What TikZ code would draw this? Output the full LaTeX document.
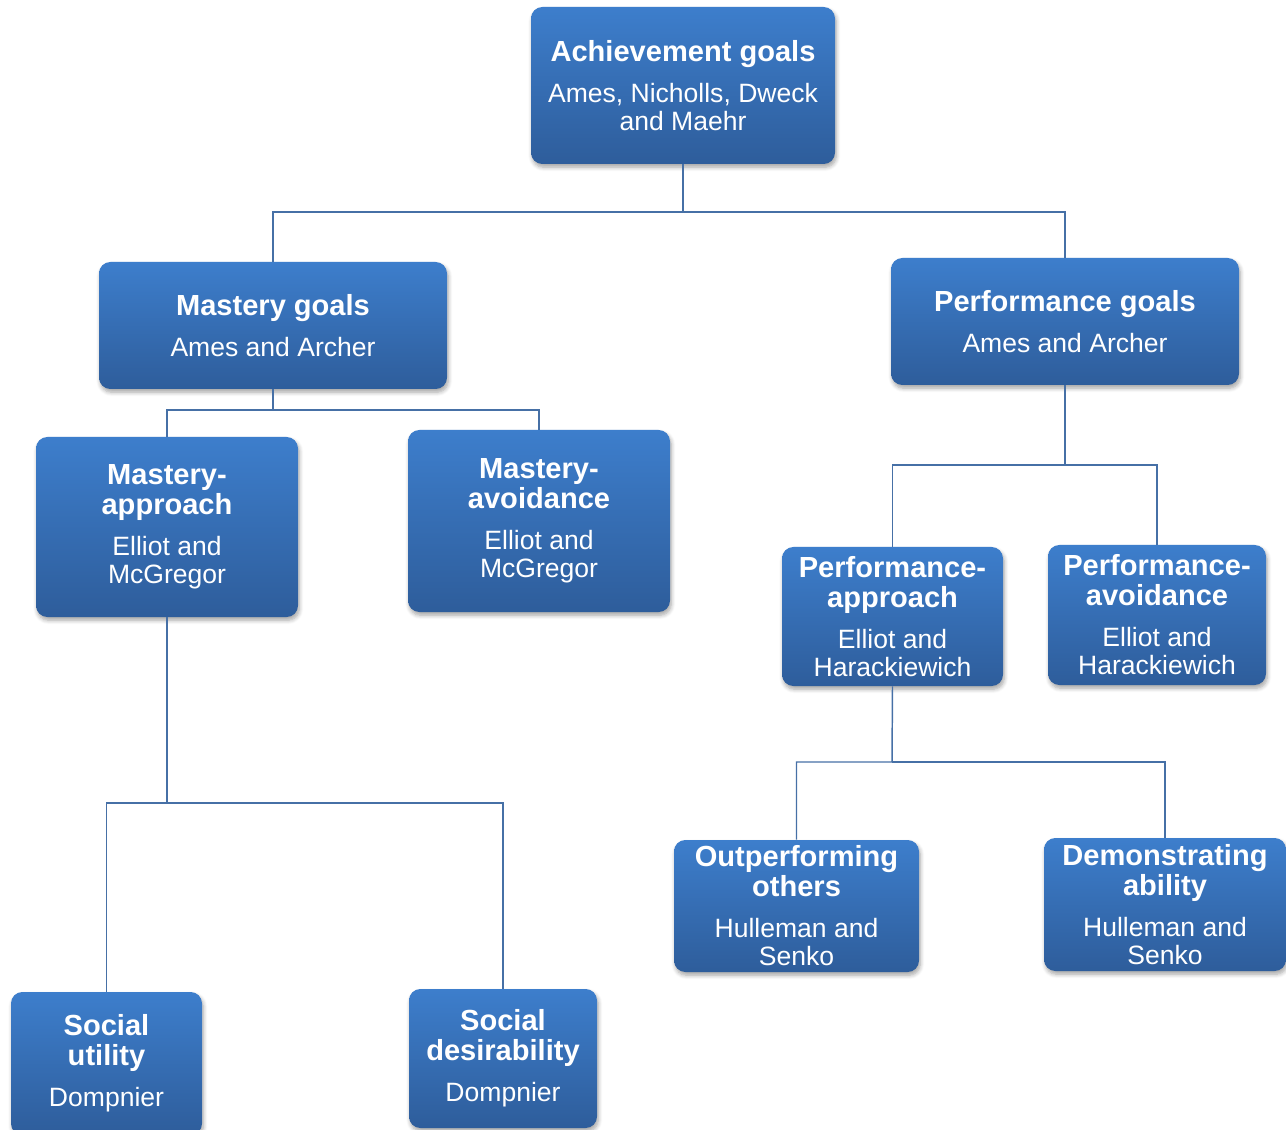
\documentclass[tikz,border=0pt]{standalone}
\usepackage{fontspec}
\setmainfont{Liberation Sans}
\usetikzlibrary{shadows.blur}
\definecolor{boxtop}{RGB}{61,126,204}
\definecolor{boxbot}{RGB}{46,93,155}
\definecolor{linkcol}{RGB}{70,112,166}
\newcommand\ttl[1]{{\fontsize{21.8}{21}\bfseries\selectfont #1}}
\begin{document}
\begin{tikzpicture}[x=0.75pt,y=-0.75pt,
  goalbox/.style 2 args={draw=none, rounded corners=8.5pt,
    top color=boxtop, bottom color=boxbot, text=white,
    minimum width=#1*0.75pt, minimum height=#2*0.75pt, inner sep=0pt,
    align=center, font=\fontsize{19.9}{21}\selectfont,
    blur shadow={shadow xshift=1pt, shadow yshift=-2.5pt, shadow blur steps=6, shadow blur radius=3pt, shadow opacity=35}},
  link/.style={draw=linkcol, line width=1.1pt}]
\useasboundingbox (0,0) rectangle (1286,1130);

% goal boxes
\node[goalbox={304}{157}] (ach) at (683,85.5)
  {\ttl{Achievement goals}\\[9.75pt]Ames, Nicholls, Dweck\\and Maehr};
\node[goalbox={348}{127}] (mg) at (273,325.5)
  {\ttl{Mastery goals}\\[9.75pt]Ames and Archer};
\node[goalbox={348}{127}] (pg) at (1065,321.5)
  {\ttl{Performance goals}\\[9.75pt]Ames and Archer};
\node[goalbox={262}{180}] (ma) at (167,527)
  {\ttl{Mastery-}\\[1.5pt]\ttl{approach}\\[9.75pt]Elliot and\\McGregor};
\node[goalbox={262}{182}] (mav) at (539,521)
  {\ttl{Mastery-}\\[1.5pt]\ttl{avoidance}\\[9.75pt]Elliot and\\McGregor};
\node[goalbox={221}{139}] (pa) at (892.5,616.5)
  {\ttl{Performance-}\\[1.5pt]\ttl{approach}\\[9.75pt]Elliot and\\Harackiewich};
\node[goalbox={218}{140}] (pav) at (1157,615)
  {\ttl{Performance-}\\[1.5pt]\ttl{avoidance}\\[9.75pt]Elliot and\\Harackiewich};
\node[goalbox={245}{132}] (oo) at (796.5,906)
  {\ttl{Outperforming}\\[1.5pt]\ttl{others}\\[9.75pt]Hulleman and\\Senko};
\node[goalbox={242}{133}] (da) at (1165,904.5)
  {\ttl{Demonstrating}\\[1.5pt]\ttl{ability}\\[9.75pt]Hulleman and\\Senko};
\node[goalbox={191}{143}] (su) at (106.5,1063.5)
  {\ttl{Social}\\[1.5pt]\ttl{utility}\\[9.75pt]Dompnier};
\node[goalbox={188}{139}] (sd) at (503,1058.5)
  {\ttl{Social}\\[1.5pt]\ttl{desirability}\\[9.75pt]Dompnier};

% branch points
\coordinate (j1) at (683,212);
\coordinate (j2) at (273,410);
\coordinate (j3) at (1065,465);
\coordinate (j4) at (167,803);
\coordinate (j5) at (892,762);

% connectors
\draw[link] (ach.south) -- (j1) -| (mg.north);
\draw[link] (j1) -| (pg.north);
\draw[link] (mg.south) -- (j2) -| (ma.north);
\draw[link] (j2) -| (mav.north);
\draw[link] (pg.south) -- (j3) -| (pa.north);
\draw[link] (j3) -| (pav.north);
\draw[link] (ma.south) -- (j4) -| (su.north);
\draw[link] (j4) -| (sd.north);
\draw[link] (pa.south) -- (j5) -| (oo.north);
\draw[link] (j5) -| (da.north);
\end{tikzpicture}
\end{document}
